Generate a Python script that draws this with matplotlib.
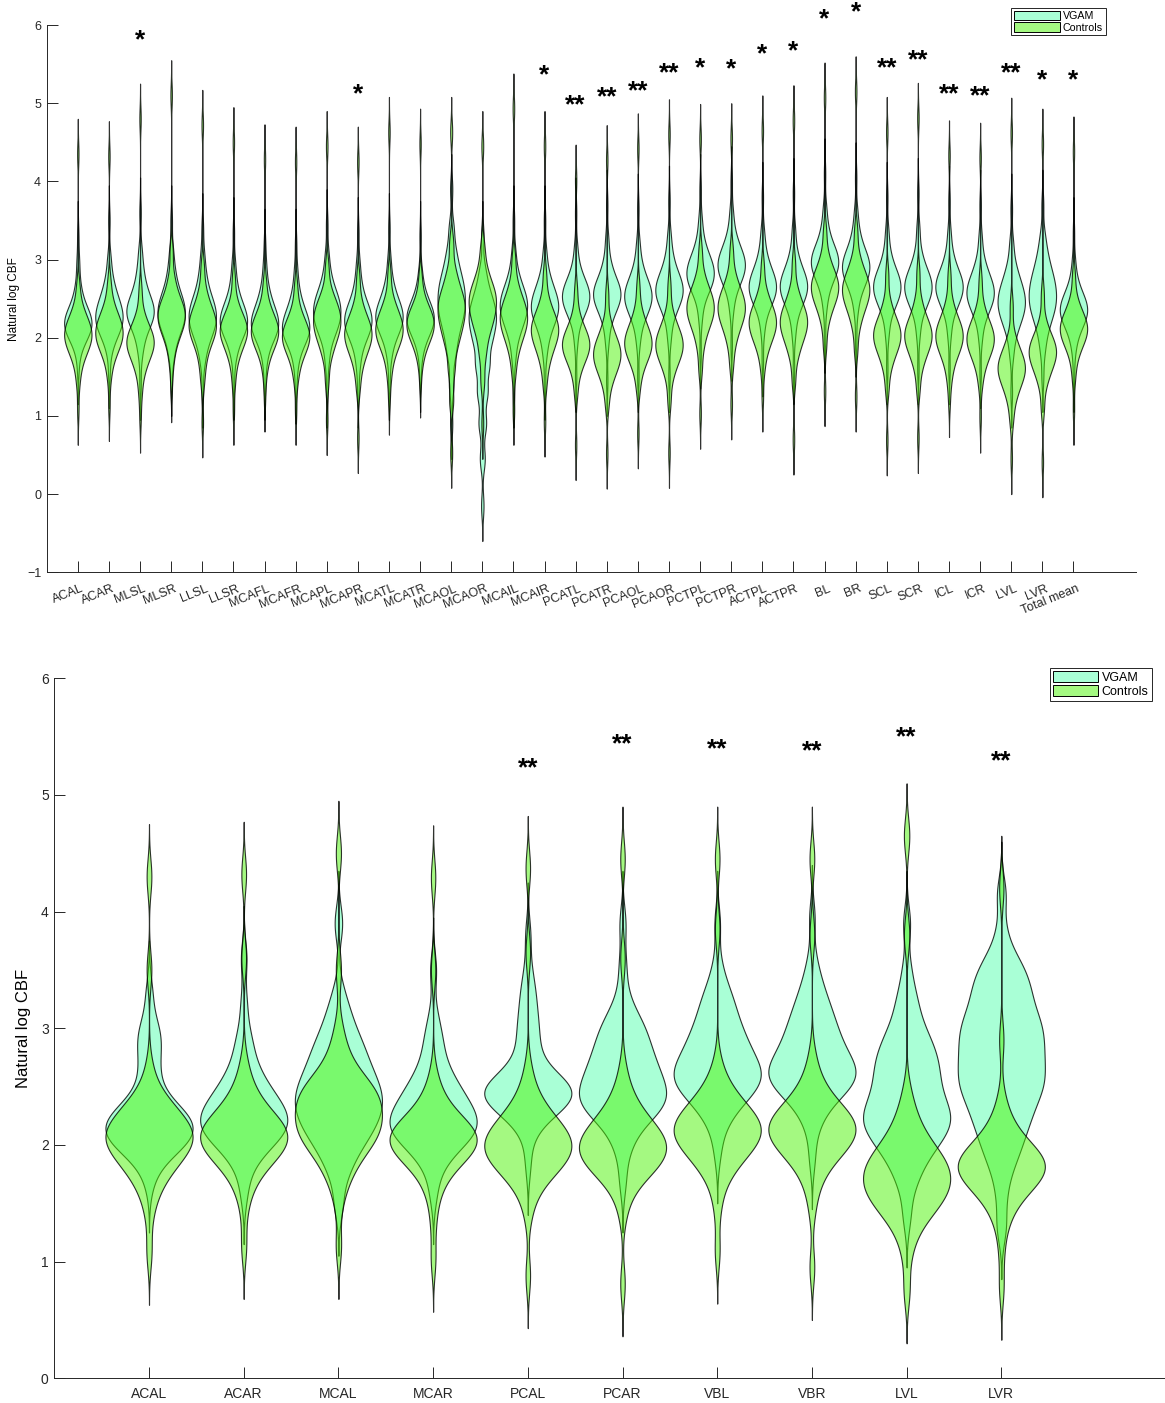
import numpy as np
import matplotlib
matplotlib.use('Agg')
import matplotlib.pyplot as plt
from matplotlib import mlab
from matplotlib.patches import Patch
from matplotlib.colors import to_rgba
from matplotlib.transforms import ScaledTranslation

plt.rcParams['font.family'] = ['Liberation Sans', 'DejaVu Sans']

# ---------------- top panel: all regions ----------------
top_labels = ['ACAL', 'ACAR', 'MLSL', 'MLSR', 'LLSL', 'LLSR', 'MCAFL', 'MCAFR',
              'MCAPL', 'MCAPR', 'MCATL', 'MCATR', 'MCAOL', 'MCAOR', 'MCAIL', 'MCAIR',
              'PCATL', 'PCATR', 'PCAOL', 'PCAOR', 'PCTPL', 'PCTPR', 'ACTPL', 'ACTPR',
              'BL', 'BR', 'SCL', 'SCR', 'ICL', 'ICR', 'LVL', 'LVR', 'Total mean']

# each top violin: 12 representative values (sorted), weighted by top_counts
top_counts = [1, 2, 3, 4, 5, 5, 5, 5, 4, 3, 2, 1]

top_vgam = [
    [1.6, 1.85, 1.97, 2.05, 2.12, 2.18, 2.25, 2.33, 2.45, 2.65, 2.95, 3.3],
    [1.55, 1.85, 2.0, 2.1, 2.18, 2.26, 2.35, 2.45, 2.58, 2.75, 3.0, 3.5],
    [1.4, 1.8, 2.0, 2.15, 2.25, 2.32, 2.4, 2.5, 2.65, 2.85, 3.1, 3.6],
    [1.37, 1.75, 1.95, 2.1, 2.2, 2.3, 2.4, 2.5, 2.65, 2.85, 3.1, 3.5],
    [1.3, 1.7, 1.9, 2.05, 2.15, 2.25, 2.35, 2.45, 2.6, 2.8, 3.05, 3.4],
    [1.4, 1.75, 1.92, 2.05, 2.13, 2.2, 2.28, 2.38, 2.5, 2.7, 2.95, 3.35],
    [1.4, 1.7, 1.9, 2.02, 2.1, 2.18, 2.25, 2.35, 2.48, 2.65, 2.9, 3.2],
    [1.35, 1.65, 1.85, 1.97, 2.05, 2.12, 2.2, 2.3, 2.42, 2.6, 2.85, 3.2],
    [1.3, 1.7, 1.95, 2.1, 2.2, 2.3, 2.4, 2.5, 2.62, 2.8, 3.05, 3.45],
    [1.3, 1.65, 1.88, 2.02, 2.12, 2.2, 2.28, 2.38, 2.5, 2.7, 2.95, 3.35],
    [1.4, 1.75, 1.95, 2.08, 2.17, 2.25, 2.33, 2.42, 2.55, 2.72, 2.98, 3.4],
    [1.5, 1.8, 1.97, 2.08, 2.16, 2.23, 2.3, 2.38, 2.48, 2.63, 2.85, 3.3],
    [0.9, 1.4, 1.8, 2.05, 2.25, 2.4, 2.55, 2.7, 2.88, 3.1, 3.4, 3.9],
    [-0.15, 0.45, 0.9, 1.3, 1.65, 1.95, 2.15, 2.3, 2.45, 2.62, 2.85, 3.3],
    [1.3, 1.75, 2.0, 2.15, 2.27, 2.37, 2.46, 2.56, 2.68, 2.85, 3.1, 3.5],
    [1.4, 1.8, 2.02, 2.17, 2.28, 2.37, 2.45, 2.55, 2.67, 2.83, 3.08, 3.5],
    [1.5, 1.95, 2.2, 2.33, 2.42, 2.5, 2.57, 2.65, 2.75, 2.9, 3.15, 3.6],
    [1.45, 1.95, 2.2, 2.35, 2.45, 2.53, 2.6, 2.68, 2.8, 2.97, 3.25, 3.7],
    [1.5, 1.95, 2.18, 2.32, 2.42, 2.5, 2.58, 2.67, 2.78, 2.95, 3.2, 3.65],
    [1.5, 2.0, 2.25, 2.4, 2.5, 2.58, 2.66, 2.75, 2.87, 3.05, 3.3, 3.75],
    [1.8, 2.25, 2.5, 2.63, 2.72, 2.8, 2.88, 2.97, 3.08, 3.25, 3.5, 3.9],
    [1.9, 2.35, 2.58, 2.72, 2.82, 2.9, 2.98, 3.07, 3.18, 3.35, 3.6, 4.0],
    [1.7, 2.1, 2.33, 2.46, 2.55, 2.63, 2.71, 2.8, 2.92, 3.1, 3.35, 3.8],
    [1.6, 2.05, 2.3, 2.45, 2.55, 2.63, 2.71, 2.8, 2.92, 3.1, 3.38, 3.85],
    [2.0, 2.4, 2.62, 2.76, 2.86, 2.94, 3.02, 3.1, 3.22, 3.4, 3.65, 4.1],
    [1.95, 2.35, 2.57, 2.7, 2.8, 2.88, 2.96, 3.05, 3.17, 3.35, 3.6, 4.05],
    [1.6, 2.05, 2.3, 2.44, 2.54, 2.62, 2.7, 2.79, 2.9, 3.08, 3.35, 3.8],
    [1.6, 2.05, 2.3, 2.44, 2.54, 2.62, 2.7, 2.79, 2.9, 3.08, 3.38, 3.85],
    [1.6, 2.05, 2.3, 2.44, 2.54, 2.62, 2.7, 2.78, 2.9, 3.07, 3.33, 3.75],
    [1.55, 2.0, 2.24, 2.37, 2.47, 2.55, 2.63, 2.72, 2.84, 3.0, 3.27, 3.7],
    [1.3, 1.8, 2.05, 2.2, 2.32, 2.42, 2.52, 2.63, 2.76, 2.93, 3.2, 3.65],
    [1.5, 1.85, 2.08, 2.25, 2.38, 2.5, 2.62, 2.75, 2.9, 3.08, 3.3, 3.7],
    [1.5, 1.85, 2.05, 2.17, 2.26, 2.33, 2.4, 2.48, 2.58, 2.73, 2.97, 3.35],
]

top_ctrl = [
    [1.08, 1.45, 1.68, 1.82, 1.92, 2.0, 2.08, 2.16, 2.26, 2.4, 2.65, 4.35],
    [1.13, 1.5, 1.72, 1.85, 1.95, 2.03, 2.11, 2.2, 2.3, 2.45, 2.7, 4.32],
    [0.98, 1.3, 1.55, 1.7, 1.82, 1.9, 1.97, 2.05, 2.15, 2.3, 2.6, 4.8],
    [1.45, 1.7, 1.9, 2.05, 2.15, 2.25, 2.33, 2.42, 2.55, 2.75, 3.1, 5.1],
    [0.92, 1.45, 1.7, 1.9, 2.02, 2.12, 2.2, 2.3, 2.42, 2.6, 2.9, 4.72],
    [1.08, 1.45, 1.7, 1.85, 1.97, 2.05, 2.12, 2.2, 2.3, 2.45, 2.75, 4.5],
    [1.25, 1.55, 1.75, 1.88, 1.97, 2.05, 2.12, 2.2, 2.3, 2.45, 2.7, 4.28],
    [1.08, 1.45, 1.65, 1.8, 1.9, 1.98, 2.05, 2.13, 2.23, 2.38, 2.65, 4.25],
    [0.95, 1.45, 1.75, 1.92, 2.05, 2.15, 2.25, 2.35, 2.45, 2.6, 2.9, 4.45],
    [0.72, 1.35, 1.6, 1.78, 1.9, 2.0, 2.08, 2.17, 2.28, 2.45, 2.75, 4.25],
    [1.21, 1.5, 1.72, 1.88, 1.98, 2.07, 2.15, 2.24, 2.35, 2.5, 2.8, 4.63],
    [1.43, 1.68, 1.85, 1.97, 2.06, 2.14, 2.21, 2.29, 2.38, 2.52, 2.78, 4.48],
    [0.53, 1.2, 1.6, 1.9, 2.1, 2.25, 2.38, 2.5, 2.65, 2.85, 3.2, 4.63],
    [0.9, 1.45, 1.8, 2.05, 2.22, 2.35, 2.47, 2.58, 2.7, 2.88, 3.15, 4.45],
    [1.08, 1.55, 1.8, 1.97, 2.1, 2.2, 2.3, 2.4, 2.52, 2.7, 3.0, 4.93],
    [0.93, 1.4, 1.65, 1.82, 1.95, 2.05, 2.13, 2.22, 2.33, 2.5, 2.8, 4.45],
    [0.63, 1.3, 1.55, 1.7, 1.8, 1.88, 1.95, 2.03, 2.13, 2.3, 2.6, 4.02],
    [0.52, 1.15, 1.4, 1.55, 1.66, 1.75, 1.83, 1.92, 2.03, 2.2, 2.55, 4.27],
    [0.78, 1.35, 1.58, 1.72, 1.82, 1.9, 1.98, 2.07, 2.18, 2.35, 2.65, 4.42],
    [0.53, 1.2, 1.5, 1.67, 1.78, 1.87, 1.95, 2.04, 2.15, 2.32, 2.65, 4.6],
    [1.03, 1.6, 1.9, 2.1, 2.23, 2.33, 2.42, 2.52, 2.63, 2.8, 3.1, 4.54],
    [1.15, 1.65, 1.92, 2.1, 2.23, 2.33, 2.42, 2.52, 2.63, 2.8, 3.1, 4.55],
    [1.25, 1.6, 1.82, 1.96, 2.07, 2.16, 2.24, 2.33, 2.44, 2.6, 2.9, 4.65],
    [0.7, 1.45, 1.75, 1.92, 2.05, 2.15, 2.24, 2.33, 2.45, 2.62, 2.95, 4.78],
    [1.32, 1.9, 2.2, 2.38, 2.5, 2.6, 2.68, 2.77, 2.88, 3.05, 3.35, 5.07],
    [1.25, 1.85, 2.15, 2.33, 2.46, 2.56, 2.65, 2.74, 2.86, 3.03, 3.35, 5.15],
    [0.69, 1.35, 1.62, 1.78, 1.9, 1.99, 2.07, 2.16, 2.27, 2.45, 2.8, 4.63],
    [0.72, 1.35, 1.62, 1.78, 1.9, 1.99, 2.07, 2.16, 2.28, 2.47, 2.82, 4.81],
    [1.18, 1.45, 1.65, 1.8, 1.9, 1.99, 2.07, 2.16, 2.27, 2.45, 2.78, 4.33],
    [0.98, 1.4, 1.62, 1.76, 1.87, 1.95, 2.03, 2.12, 2.23, 2.4, 2.72, 4.3],
    [0.45, 0.95, 1.2, 1.36, 1.48, 1.57, 1.65, 1.74, 1.85, 2.02, 2.4, 4.62],
    [0.41, 1.1, 1.4, 1.56, 1.68, 1.77, 1.85, 1.93, 2.03, 2.2, 2.55, 4.48],
    [1.08, 1.5, 1.75, 1.9, 2.0, 2.08, 2.15, 2.23, 2.33, 2.48, 2.78, 4.38],
]

top_sig = ['', '', '*', '', '', '', '', '', '', '*', '', '', '', '', '', '*',
           '**', '**', '**', '**', '*', '*', '*', '*', '*', '*', '**', '**',
           '**', '**', '**', '*', '*']
top_sig_y = [0, 0, 5.91, 0, 0, 0, 0, 0, 0, 5.22, 0, 0, 0, 0, 0, 5.46,
             5.08, 5.18, 5.25, 5.48, 5.55, 5.54, 5.73, 5.76, 6.18, 6.26, 5.55, 5.65,
             5.21, 5.19, 5.48, 5.4, 5.39]

# ---------------- bottom panel: main territories ----------------
bot_labels = ['ACAL', 'ACAR', 'MCAL', 'MCAR', 'PCAL', 'PCAR', 'VBL', 'VBR', 'LVL', 'LVR']

# values and how many subjects sit at each value
bot_vgam_vals = [
    [1.7, 1.9, 2.0, 2.1, 2.2, 2.3, 2.45, 2.65, 2.85, 3.0, 3.3],
    [1.6, 1.85, 2.0, 2.1, 2.2, 2.3, 2.42, 2.55, 2.7, 2.9, 3.2, 3.6],
    [1.5, 1.8, 2.0, 2.15, 2.3, 2.45, 2.6, 2.75, 2.9, 3.1, 3.3, 3.9],
    [1.6, 1.85, 2.0, 2.1, 2.2, 2.3, 2.42, 2.55, 2.7, 2.9, 3.1, 3.5],
    [1.85, 2.15, 2.3, 2.4, 2.47, 2.55, 2.65, 2.8, 2.95, 3.1, 3.3, 3.5, 3.8],
    [1.7, 2.0, 2.2, 2.32, 2.42, 2.52, 2.63, 2.75, 2.88, 3.0, 3.12, 3.3, 3.55, 3.9],
    [1.95, 2.2, 2.35, 2.47, 2.58, 2.68, 2.8, 2.92, 3.05, 3.2, 3.35, 3.55, 3.9],
    [1.9, 2.2, 2.38, 2.5, 2.6, 2.7, 2.82, 2.95, 3.08, 3.22, 3.4, 3.6, 3.95],
    [1.4, 1.7, 1.9, 2.05, 2.18, 2.3, 2.45, 2.6, 2.75, 2.9, 3.05, 3.25, 3.5, 3.9],
    [1.3, 1.6, 1.85, 2.05, 2.25, 2.45, 2.62, 2.8, 2.98, 3.15, 3.35, 3.55, 3.8, 4.15],
]
bot_vgam_counts = [
    [1, 2, 4, 5, 5, 4, 2, 2, 2, 2, 1],
    [1, 2, 3, 5, 5, 5, 4, 3, 2, 2, 1, 1],
    [1, 2, 3, 4, 5, 5, 4, 3, 3, 2, 1, 1],
    [1, 2, 3, 5, 5, 4, 4, 3, 2, 2, 1, 1],
    [1, 2, 4, 6, 6, 4, 2, 2, 2, 2, 2, 1, 1],
    [1, 2, 3, 5, 5, 4, 4, 4, 3, 3, 2, 1, 1, 1],
    [1, 2, 3, 5, 6, 5, 4, 4, 3, 3, 2, 1, 1],
    [1, 2, 3, 5, 6, 5, 4, 4, 3, 3, 2, 1, 1],
    [1, 2, 3, 4, 5, 5, 4, 4, 4, 3, 2, 2, 1, 1],
    [1, 1, 2, 3, 4, 5, 5, 5, 5, 4, 4, 3, 1, 1],
]

bot_ctrl_vals = [
    [1.08, 1.4, 1.6, 1.75, 1.88, 2.0, 2.1, 2.2, 2.32, 2.45, 2.65, 3.5, 4.3],
    [1.13, 1.45, 1.65, 1.8, 1.92, 2.02, 2.12, 2.22, 2.35, 2.5, 2.7, 3.6, 4.32],
    [1.13, 1.5, 1.7, 1.85, 2.0, 2.12, 2.25, 2.38, 2.5, 2.62, 2.8, 3.0, 3.5, 4.5],
    [1.02, 1.35, 1.6, 1.78, 1.9, 2.0, 2.08, 2.17, 2.28, 2.42, 2.6, 3.5, 4.29],
    [0.88, 1.4, 1.6, 1.75, 1.87, 1.97, 2.07, 2.18, 2.3, 2.45, 2.65, 3.65, 4.37],
    [0.81, 1.4, 1.6, 1.75, 1.86, 1.96, 2.06, 2.17, 2.3, 2.45, 2.65, 3.6, 4.45],
    [1.09, 1.45, 1.68, 1.85, 1.98, 2.08, 2.18, 2.28, 2.4, 2.52, 2.7, 3.85, 4.45],
    [0.95, 1.45, 1.68, 1.85, 1.97, 2.08, 2.18, 2.28, 2.4, 2.55, 2.75, 3.8, 4.45],
    [0.75, 1.05, 1.25, 1.42, 1.55, 1.67, 1.8, 1.93, 2.08, 2.25, 2.45, 3.8, 4.65],
    [0.78, 1.1, 1.35, 1.52, 1.65, 1.76, 1.86, 1.96, 2.08, 2.22, 2.4, 2.9, 4.2],
]
bot_ctrl_counts = [
    [1, 1, 2, 3, 5, 6, 6, 5, 4, 2, 1, 1, 1],
    [1, 1, 2, 3, 5, 6, 6, 5, 3, 2, 1, 1, 1],
    [1, 1, 2, 3, 5, 6, 6, 6, 5, 3, 2, 1, 1, 1],
    [1, 1, 2, 3, 5, 6, 6, 5, 3, 2, 1, 1, 1],
    [1, 1, 2, 4, 6, 6, 6, 5, 3, 2, 1, 1, 1],
    [1, 1, 2, 4, 6, 6, 6, 5, 3, 2, 1, 1, 1],
    [1, 1, 2, 4, 5, 6, 6, 5, 3, 2, 1, 1, 1],
    [1, 1, 2, 3, 5, 6, 6, 5, 3, 2, 1, 1, 1],
    [1, 1, 2, 4, 5, 6, 6, 5, 3, 2, 1, 1, 1],
    [1, 1, 2, 3, 5, 7, 7, 5, 3, 2, 1, 1, 1],
]

bot_sig = ['', '', '', '', '**', '**', '**', '**', '**', '**']
bot_sig_y = [0, 0, 0, 0, 5.30, 5.50, 5.46, 5.44, 5.56, 5.36]

# ---------------- style ----------------
vgam_color = '#55ffaf'
ctrl_color = '#4bf505'
face_alpha = 0.5
bw = 0.15
axis_col = '#262626'


def kde_stats(vals, counts):
    d = np.repeat(np.asarray(vals, dtype=float), counts)
    kde = mlab.GaussianKDE(d, bw_method=bw / d.std(ddof=1))
    coords = np.linspace(d.min() - 3 * bw, d.max() + 3 * bw, 400)
    return dict(coords=coords, vals=kde.evaluate(coords), mean=d.mean(),
                median=np.median(d), min=d.min(), max=d.max())


def draw_violins(ax, vals, counts, color, width, z):
    pos = np.arange(1, len(vals) + 1)
    stats = [kde_stats(v, c) for v, c in zip(vals, counts)]
    parts = ax.violin(stats, positions=pos, widths=width,
                      showmeans=False, showextrema=False, showmedians=False)
    for b in parts['bodies']:
        b.set_alpha(None)
        b.set_facecolor(to_rgba(color, face_alpha))
        b.set_edgecolor((0, 0, 0, 0.8))
        b.set_linewidth(0.8)
        b.set_zorder(z)


def style_axes(ax, fs):
    for s in ['top', 'right']:
        ax.spines[s].set_visible(False)
    for s in ['left', 'bottom']:
        ax.spines[s].set_color(axis_col)
        ax.spines[s].set_linewidth(0.7)
    ax.tick_params(direction='in', length=8, width=0.7, colors=axis_col, labelsize=fs)


def add_sig(ax, sig, sig_y, fs):
    for i, (s, y) in enumerate(zip(sig, sig_y)):
        if s:
            ax.annotate(s, (i + 1, y), xytext=(0, -0.57 * fs), textcoords='offset points',
                        ha='center', va='baseline', fontsize=fs, fontweight='bold',
                        color='k', annotation_clip=False)


def add_legend(ax, x, y, fs, hl):
    handles = [Patch(facecolor=to_rgba(vgam_color, face_alpha), edgecolor='k', lw=0.7, label='VGAM'),
               Patch(facecolor=to_rgba(ctrl_color, face_alpha), edgecolor='k', lw=0.7, label='Controls')]
    leg = ax.legend(handles=handles, loc='upper left', bbox_to_anchor=(x / W, 1 - y / H),
                    bbox_transform=fig.transFigure, fontsize=fs, handlelength=hl,
                    handleheight=1.0, handletextpad=0.3, labelspacing=0.1, borderpad=0.25,
                    borderaxespad=0, fancybox=False, edgecolor=axis_col, framealpha=1)
    leg.get_frame().set_linewidth(0.7)


W, H = 1165, 1403
fig = plt.figure(figsize=(W / 100, H / 100), dpi=100)

# top panel
ax1 = fig.add_axes([46.7 / W, 1 - 572.3 / H, (1135.7 - 46.7) / W, (572.3 - 25) / H])
draw_violins(ax1, top_vgam, [top_counts] * len(top_vgam), vgam_color, 0.88, 2)
draw_violins(ax1, top_ctrl, [top_counts] * len(top_ctrl), ctrl_color, 0.88, 3)
ax1.set_xlim(0, 35)
ax1.set_ylim(-1, 6)
ax1.set_yticks(range(-1, 7))
ax1.set_xticks(range(1, len(top_labels) + 1))
ax1.set_xticklabels(top_labels, rotation=22, ha='right', va='center',
                    rotation_mode='anchor')
style_axes(ax1, 9)
ax1.tick_params(axis='x', pad=10)
ax1.tick_params(axis='y', pad=4)
shift = ScaledTranslation(0.05, -0.02, fig.dpi_scale_trans)
for lab in ax1.get_xticklabels():
    lab.set_transform(lab.get_transform() + shift)
ax1.set_ylabel('Natural log CBF', fontsize=8.5, color='k', labelpad=5)
add_sig(ax1, top_sig, top_sig_y, 19)
add_legend(ax1, 1011, 8, 7.7, 4.3)

# bottom panel
ax2 = fig.add_axes([54.3 / W, 1 - 1378.3 / H, 12 * 94.7 / W, (1378.3 - 678.3) / H])
draw_violins(ax2, bot_vgam_vals, bot_vgam_counts, vgam_color, 0.92, 2)
draw_violins(ax2, bot_ctrl_vals, bot_ctrl_counts, ctrl_color, 0.92, 3)
ax2.set_xlim(0, 12)
ax2.set_ylim(0, 6)
ax2.set_yticks(range(0, 7))
ax2.set_xticks(range(1, len(bot_labels) + 1))
ax2.set_xticklabels(bot_labels)
style_axes(ax2, 10)
ax2.tick_params(axis='x', pad=6)
ax2.tick_params(axis='y', pad=4)
ax2.set_ylabel('Natural log CBF', fontsize=12, color='k', labelpad=7)
add_sig(ax2, bot_sig, bot_sig_y, 19)
add_legend(ax2, 1050, 668, 9, 3.6)

fig.savefig('out.png', dpi=100)
